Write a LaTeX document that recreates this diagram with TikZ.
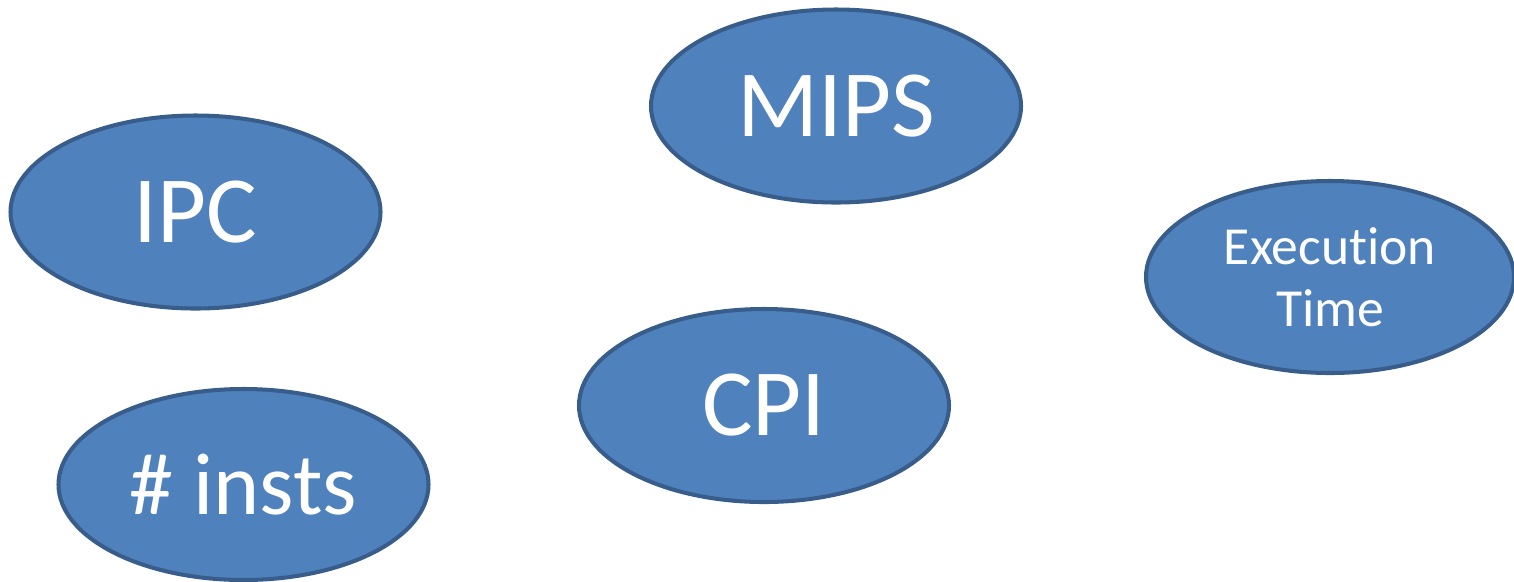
\documentclass[tikz,border=0pt]{standalone}
\usepackage{fontspec}
\setmainfont[Ligatures=NoCommon]{Carlito}
\usepackage{tikz}
\usetikzlibrary{arrows,shapes}
\usetikzlibrary{positioning}
\definecolor{metricfill}{HTML}{4F81BD}
\definecolor{metricedge}{HTML}{385D8A}
\tikzset{
    metric/.style={ellipse, draw=metricedge, fill=metricfill, line width=2.3pt,
        minimum width=7.4cm, minimum height=3.86cm, inner sep=0pt,
        text=white, font=\fontsize{54}{60}\selectfont},
    smallmetric/.style={metric, align=center,
        font=\fontsize{30.5}{35}\selectfont},
}

\begin{document}
\begin{tikzpicture}
\useasboundingbox (0,0) rectangle (30.28,-11.62);
%TOP ROW
\node [metric] (mips) at (16.72,-2.12) {MIPS};
\node [metric] (ipc) at (3.91,-4.24) {IPC};
\node [smallmetric, minimum width=7.36cm, minimum height=3.84cm] (exectime) at (26.6,-5.54) {Execut\kern0pt ion\\Time};

%BOTTOM ROW
\node [metric] (cpi) at (15.28,-8.11) {CPI};
\node [metric, minimum height=3.82cm, font=\fontsize{50}{56}\selectfont] (insts) at (4.87,-9.69) {\# inst\kern0pt s};
\end{tikzpicture}
\end{document}
